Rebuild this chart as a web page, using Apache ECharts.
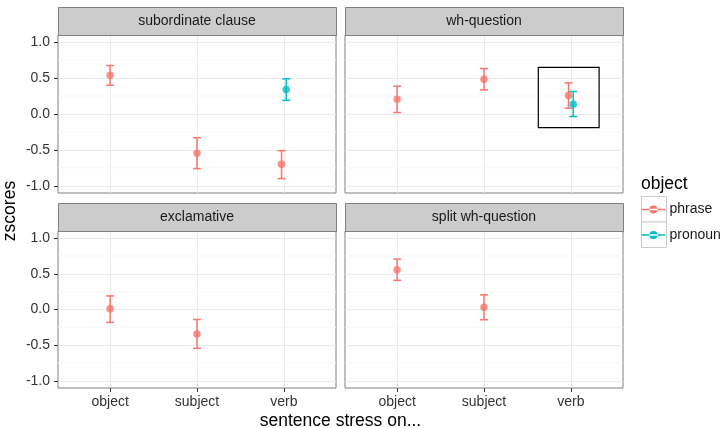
<!DOCTYPE html>
<html>
<head>
<meta charset="utf-8">
<script src="https://cdn.jsdelivr.net/npm/echarts@6/dist/echarts.min.js"></script>
<style>
html,body{margin:0;padding:0;background:#fff;}
#chart{width:723px;height:428px;}
</style>
</head>
<body>
<div id="chart"></div>
<script>
// ---- data ----
const facets = ['subordinate clause', 'wh-question', 'exclamative', 'split wh-question'];
const stressCats = ['object', 'subject', 'verb'];
const groups = ['phrase', 'pronoun'];
const yTicks = [-1.0, -0.5, 0.0, 0.5, 1.0];
const yMinor = [-0.75, -0.25, 0.25, 0.75];

// per facet, per stress category (object, subject, verb)
const phraseMean = [[0.54, -0.545, -0.70], [0.206, 0.485, 0.258], [0.01, -0.344, null], [0.558, 0.033, null]];
const phraseLow  = [[0.40, -0.76, -0.90], [0.021, 0.336, 0.081], [-0.18, -0.544, null], [0.409, -0.144, null]];
const phraseHigh = [[0.675, -0.33, -0.51], [0.387, 0.633, 0.434], [0.19, -0.14, null], [0.707, 0.205, null]];

const pronounMean = [[null, null, 0.34], [null, null, 0.137], [null, null, null], [null, null, null]];
const pronounLow  = [[null, null, 0.19], [null, null, -0.035], [null, null, null], [null, null, null]];
const pronounHigh = [[null, null, 0.49], [null, null, 0.313], [null, null, null], [null, null, null]];

// highlight rectangle in the wh-question panel: [xmin, xmax, ymin, ymax]
const highlightFacet = 1;
const highlightRect = [2.625, 3.325, -0.19, 0.65];

const dodge = 0.027;
const colors = {phrase: '#F8766D', pronoun: '#00BFC4'};

// ---- layout ----
const panels = [
  {left: 58, top: 35, width: 278, height: 158},
  {left: 345, top: 35, width: 278, height: 158},
  {left: 58, top: 231, width: 278, height: 157},
  {left: 345, top: 231, width: 278, height: 157}
];
const stripH = 28;
const FONT = '"Liberation Sans", Arial, Helvetica, sans-serif';

const grid = [], xAxis = [], yAxis = [], series = [], graphic = [];

panels.forEach((p, i) => {
  grid.push({left: p.left, top: p.top, width: p.width, height: p.height,
    show: true, borderColor: '#7f7f7f', borderWidth: 1, backgroundColor: '#fff', containLabel: false});
  const isBottom = i >= 2, isLeft = i % 2 === 0;
  xAxis.push({
    type: 'value', gridIndex: i, min: 0.4, max: 3.6, position: 'bottom',
    axisLine: {show: false, onZero: false},
    axisTick: {show: isBottom, customValues: [1, 2, 3], length: 4, lineStyle: {color: '#333', width: 1}},
    axisLabel: {show: isBottom, customValues: [1, 2, 3], color: '#333', fontSize: 14, fontFamily: FONT, margin: 7,
      formatter: v => stressCats[Math.round(v) - 1] || ''},
    splitLine: {show: true, lineStyle: {color: '#ebebeb', width: 1}}
  });
  yAxis.push({
    type: 'value', gridIndex: i, min: -1.1, max: 1.1, position: 'left',
    axisLine: {show: false, onZero: false},
    axisTick: {show: isLeft, customValues: yTicks, length: 4, lineStyle: {color: '#333', width: 1}},
    axisLabel: {show: isLeft, customValues: yTicks, color: '#333', fontSize: 14, fontFamily: FONT, margin: 8,
      formatter: v => v.toFixed(1)},
    splitLine: {show: true, lineStyle: {color: '#ebebeb', width: 1}}
  });
  // minor grid lines
  series.push({
    type: 'custom', xAxisIndex: i, yAxisIndex: i, silent: true, z: 0,
    data: yMinor.map(v => [v]),
    renderItem: (params, api) => {
      const a = api.coord([0.4, api.value(0)]);
      const b = api.coord([3.6, api.value(0)]);
      return {type: 'line', shape: {x1: a[0], y1: a[1], x2: b[0], y2: b[1]},
        style: {stroke: '#f7f7f7', lineWidth: 1}};
    }
  });
  // strips
  graphic.push({type: 'rect', left: p.left, top: p.top - stripH, z: 10,
    shape: {x: 0, y: 0, width: p.width, height: stripH},
    style: {fill: '#cccccc', stroke: '#7f7f7f', lineWidth: 1}});
  graphic.push({type: 'text', x: p.left + p.width / 2, y: p.top - stripH / 2 + 0.5, z: 11,
    style: {text: facets[i], fill: '#1a1a1a', font: '14px ' + FONT, align: 'center', verticalAlign: 'middle'}});
});

function buildData(fi, which) {
  const out = [];
  for (let c = 0; c < stressCats.length; c++) {
    const pm = phraseMean[fi][c], qm = pronounMean[fi][c];
    const both = pm != null && qm != null;
    if (which === 'phrase' && pm != null) out.push([c + 1 - (both ? dodge : 0), pm, phraseLow[fi][c], phraseHigh[fi][c]]);
    if (which === 'pronoun' && qm != null) out.push([c + 1 + (both ? dodge : 0), qm, pronounLow[fi][c], pronounHigh[fi][c]]);
  }
  return out;
}

facets.forEach((f, fi) => {
  groups.forEach(g => {
    const d = buildData(fi, g);
    series.push({
      type: 'custom', name: g, xAxisIndex: fi, yAxisIndex: fi, z: 3,
      data: d,
      renderItem: (params, api) => {
        const x = api.value(0);
        const lo = api.coord([x, api.value(2)]);
        const hi = api.coord([x, api.value(3)]);
        const cw = 4;
        const st = {stroke: colors[g], lineWidth: 1.5};
        return {type: 'group', children: [
          {type: 'line', shape: {x1: lo[0], y1: lo[1], x2: hi[0], y2: hi[1]}, style: st},
          {type: 'line', shape: {x1: lo[0] - cw, y1: lo[1], x2: lo[0] + cw, y2: lo[1]}, style: st},
          {type: 'line', shape: {x1: hi[0] - cw, y1: hi[1], x2: hi[0] + cw, y2: hi[1]}, style: st}
        ]};
      },
      encode: {x: 0, y: [1, 2, 3]}
    });
    series.push({
      type: 'scatter', name: g, xAxisIndex: fi, yAxisIndex: fi, z: 4,
      symbol: 'circle', symbolSize: 7.5,
      itemStyle: {color: colors[g]},
      data: d.map(r => [r[0], r[1]])
    });
  });
});

// highlight rectangle
series.push({
  type: 'custom', xAxisIndex: highlightFacet, yAxisIndex: highlightFacet, z: 5, silent: true,
  data: [highlightRect],
  renderItem: (params, api) => {
    const p1 = api.coord([api.value(0), api.value(3)]);
    const p2 = api.coord([api.value(1), api.value(2)]);
    return {type: 'rect', shape: {x: p1[0], y: p1[1], width: p2[0] - p1[0], height: p2[1] - p1[1]},
      style: {fill: 'none', stroke: '#000', lineWidth: 1.2}};
  }
});

// axis titles
graphic.push({type: 'text', x: 340.5, y: 421, style: {text: 'sentence stress on...', fill: '#000', font: '17.5px ' + FONT, align: 'center', verticalAlign: 'middle'}});
graphic.push({type: 'text', x: 10, y: 211, rotation: Math.PI / 2, style: {text: 'zscores', fill: '#000', font: '17.5px ' + FONT, align: 'center', verticalAlign: 'middle'}});
// legend title and key boxes
graphic.push({type: 'text', x: 641, y: 184, style: {text: 'object', fill: '#000', font: '17.5px ' + FONT, align: 'left', verticalAlign: 'middle'}});
graphic.push({type: 'rect', left: 641, top: 196, z: 1, shape: {x: 0, y: 0, width: 25, height: 25.5}, style: {fill: '#fff', stroke: '#cccccc', lineWidth: 1}});
graphic.push({type: 'rect', left: 641, top: 221.5, z: 1, shape: {x: 0, y: 0, width: 25, height: 25.5}, style: {fill: '#fff', stroke: '#cccccc', lineWidth: 1}});

const keyIcon = 'path://M0,11.2 L24,11.2 L24,12.8 L0,12.8 Z M12,7.9 A4.1,4.1 0 1 0 12.001,7.9 Z';

const legend = groups.map((g, k) => ({
  data: [{name: g, icon: keyIcon, itemStyle: {color: colors[g]}}],
  orient: 'vertical', left: 641.5, top: 202.5 + k * 25.5, padding: 0,
  itemWidth: 24, itemHeight: 24, itemGap: 0,
  textStyle: {fontSize: 14, fontFamily: FONT, color: '#1a1a1a', padding: [0, 0, 0, -1]},
  selectedMode: false, z: 20
}));

const option = {
  animation: false,
  backgroundColor: '#fff',
  grid, xAxis, yAxis, series, graphic, legend
};

const chart = echarts.init(document.getElementById('chart'), null, {renderer: 'canvas'});
chart.setOption(option);
</script>
</body>
</html>
